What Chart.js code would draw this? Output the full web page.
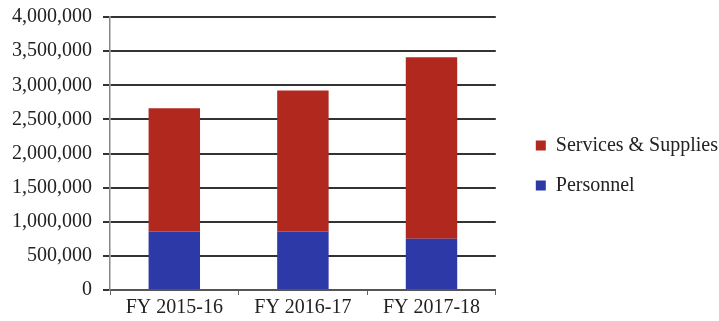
<!DOCTYPE html>
<html lang="en">
<head>
    <meta charset="UTF-8">
    <title>Budget by Year</title>
    <script src="https://cdn.jsdelivr.net/npm/chart.js@4.4.0/dist/chart.umd.min.js"></script>
    <style>
        html, body { margin: 0; padding: 0; background: #fff; }
        #wrap { width: 719px; height: 321px; }
    </style>
</head>
<body>
<div id="wrap"><canvas id="budgetChart"></canvas></div>
<script>
    var years = ['FY 2015-16', 'FY 2016-17', 'FY 2017-18'];
    var personnel = [857000, 857000, 750000];
    var services = [1805000, 2065000, 2660000];
    var yTicks = [0, 500000, 1000000, 1500000, 2000000, 2500000, 3000000, 3500000, 4000000];

    var serif = "'Liberation Serif', 'Times New Roman', serif";

    var ctx = document.getElementById('budgetChart').getContext('2d');
    var budgetChart = new Chart(ctx, {
        type: 'bar',
        data: {
            labels: years,
            datasets: [{
                label: 'Personnel',
                data: personnel,
                backgroundColor: '#2c39a6',
                borderWidth: 0
            }, {
                label: 'Services & Supplies',
                data: services,
                backgroundColor: '#b1281e',
                borderWidth: 0
            }]
        },
        options: {
            responsive: true,
            maintainAspectRatio: false,
            animation: false,
            layout: { padding: { top: 10, right: -9, left: 0, bottom: 0 } },
            datasets: {
                bar: { barPercentage: 0.4, categoryPercentage: 1 }
            },
            plugins: {
                tooltip: { enabled: false },
                legend: {
                    position: 'right',
                    reverse: true,
                    maxWidth: 260,
                    labels: {
                        boxWidth: 10,
                        boxHeight: 10,
                        padding: 20,
                        color: '#222',
                        font: { family: serif, size: 20 }
                    }
                }
            },
            scales: {
                x: {
                    stacked: true,
                    grid: {
                        drawOnChartArea: false,
                        drawTicks: true,
                        tickLength: 5,
                        color: '#666'
                    },
                    border: { color: '#555', width: 2 },
                    ticks: {
                        padding: 1,
                        color: '#222',
                        font: { family: serif, size: 20 }
                    }
                },
                y: {
                    stacked: true,
                    min: 0,
                    max: 4000000,
                    afterFit: function(scale) {
                        scale.width = 110;
                        scale.paddingTop = 17;
                    },
                    afterBuildTicks: function(scale) {
                        scale.ticks = yTicks.map(function(v) { return { value: v }; });
                    },
                    grid: {
                        color: '#333',
                        lineWidth: 2,
                        tickLength: 7
                    },
                    border: { color: '#888', width: 1.5 },
                    ticks: {
                        padding: 11,
                        color: '#222',
                        font: { family: serif, size: 20 },
                        callback: function(v) { return v.toLocaleString('en-US'); }
                    }
                },
                gap: {
                    position: 'right',
                    display: true,
                    afterFit: function(scale) { scale.width = 20; },
                    grid: { display: false },
                    border: { display: false },
                    ticks: { display: false }
                }
            }
        }
    });
</script>
</body>
</html>
